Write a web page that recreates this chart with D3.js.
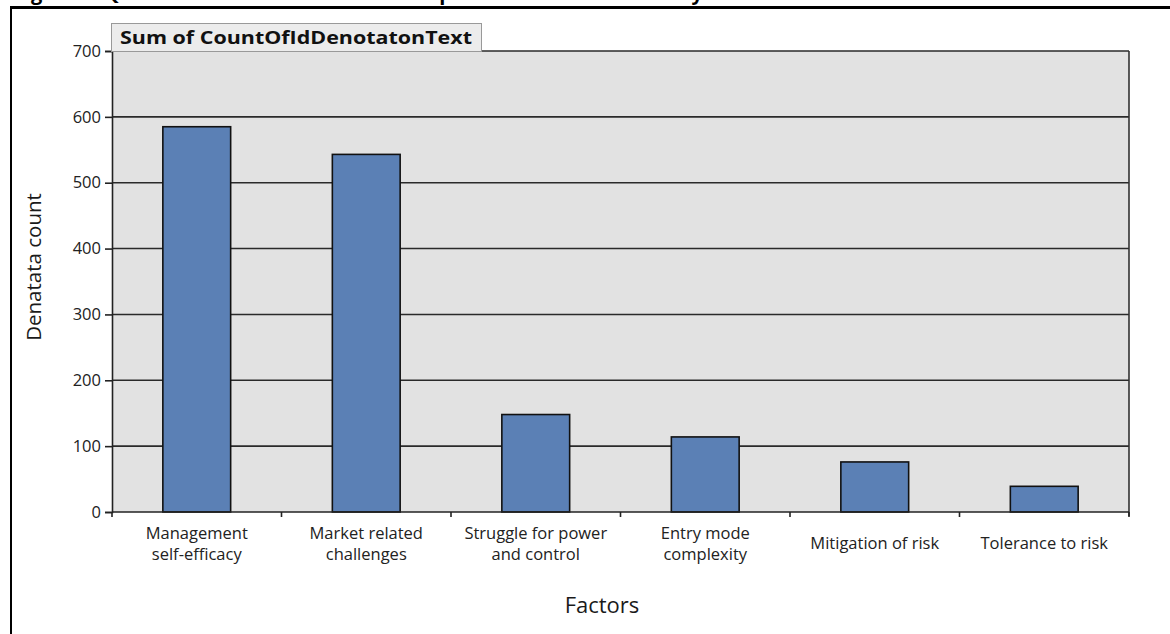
<!DOCTYPE html>
<html><head><meta charset="utf-8">
<script src="https://cdn.jsdelivr.net/npm/d3@7"></script>
<style>
html,body{margin:0;padding:0;background:#fff;}
svg{display:block;}
text{font-family:"Open Sans",Lato,sans-serif;fill:#222;}
</style></head>
<body>
<script>
const categories = [["Management","self-efficacy"],["Market related","challenges"],["Struggle for power","and control"],["Entry mode","complexity"],["Mitigation of risk"],["Tolerance to risk"]];
const values = [585, 543, 148, 114, 76, 39];
const yTicks = [0,100,200,300,400,500,600,700];
const titleText = "Sum of CountOfIdDenotatonText";
const yLabel = "Denatata count";
const xLabel = "Factors";
const captionText = "Figure 4: Qualitative Factors Sum of the Important Data Sets of Study";

const W = 1170, H = 634;
const m = {left:112, right:1129, top:51, bottom:512};
const svg = d3.select("body").append("svg").attr("width",W).attr("height",H);

// caption (cropped at top, only the lower edge of the glyphs shows)
svg.append("text").attr("x",14).attr("y",0).attr("font-family","Liberation Serif, serif")
  .attr("font-weight","bold").attr("font-size",20).style("fill","#000").text(captionText);

// outer frame
svg.append("line").attr("x1",10).attr("x2",W).attr("y1",7.5).attr("y2",7.5).attr("stroke","#000").attr("stroke-width",3);
svg.append("line").attr("x1",11).attr("x2",11).attr("y1",6).attr("y2",H).attr("stroke","#000").attr("stroke-width",2);

const x = d3.scaleBand().domain(categories.map((d,i)=>i)).range([m.left,m.right]).paddingInner(0.6).paddingOuter(0.3);
const xb = d3.scaleBand().domain(categories.map((d,i)=>i)).range([m.left,m.right]);
const y = d3.scaleLinear().domain([0,700]).range([m.bottom,m.top]);

// plot background
svg.append("rect").attr("x",m.left).attr("y",m.top).attr("width",m.right-m.left).attr("height",m.bottom-m.top).attr("fill","#e2e2e2");

// grid lines
svg.append("g").selectAll("line").data(yTicks.filter(d=>d>0)).join("line")
  .attr("x1",m.left).attr("x2",m.right).attr("y1",d=>y(d)).attr("y2",d=>y(d))
  .attr("stroke","#2a2a2a").attr("stroke-width",1.6);
svg.append("line").attr("x1",m.right).attr("x2",m.right).attr("y1",m.top).attr("y2",m.bottom+4).attr("stroke","#333").attr("stroke-width",1.6);

// bars
svg.append("g").selectAll("rect").data(values).join("rect")
  .attr("x",(d,i)=>x(i)).attr("width",x.bandwidth())
  .attr("y",d=>y(d)).attr("height",d=>y(0)-y(d))
  .attr("fill","#5b80b5").attr("stroke","#111").attr("stroke-width",1.6);

// y axis
const yAxis = svg.append("g").attr("transform",`translate(${m.left},0)`)
  .call(d3.axisLeft(y).tickValues(yTicks).tickSize(7).tickPadding(4));
yAxis.select(".domain").attr("stroke","#222").attr("stroke-width",1.6);
yAxis.selectAll(".tick line").attr("stroke","#222").attr("stroke-width",1.6);
yAxis.selectAll(".tick text").attr("font-size",16.5).attr("font-family","Open Sans, sans-serif").style("fill","#222");

// x axis baseline and ticks at boundaries
svg.append("line").attr("x1",m.left).attr("x2",m.right).attr("y1",m.bottom).attr("y2",m.bottom).attr("stroke","#222").attr("stroke-width",1.6);
const bounds = categories.map((d,i)=>xb(i)).concat([m.right]);
svg.append("g").selectAll("line").data(bounds).join("line")
  .attr("x1",d=>d).attr("x2",d=>d).attr("y1",m.bottom).attr("y2",m.bottom+5)
  .attr("stroke","#222").attr("stroke-width",1.6);

// x labels
const xl = svg.append("g").selectAll("text").data(categories).join("text")
  .attr("text-anchor","middle").attr("font-size",16.5).style("fill","#222")
  .attr("x",(d,i)=>xb(i)+xb.bandwidth()/2)
  .attr("y",d=> d.length===1 ? 549 : 539);
xl.selectAll("tspan").data(d=>d).join("tspan")
  .attr("x",function(){return d3.select(this.parentNode).attr("x");})
  .attr("dy",(d,i)=>i===0?0:21).text(d=>d);

// axis titles
svg.append("text").attr("transform","translate(41,267) rotate(-90)").attr("text-anchor","middle")
  .attr("font-size",20.5).style("fill","#1a1a1a").text(yLabel);
svg.append("text").attr("x",602).attr("y",613).attr("text-anchor","middle")
  .attr("font-size",22).style("fill","#1a1a1a").text(xLabel);

// title box
svg.append("rect").attr("x",111.5).attr("y",23.5).attr("width",370).attr("height",28)
  .attr("fill","#ececec").attr("stroke","#999").attr("stroke-width",1);
svg.append("text").attr("x",120).attr("y",44).attr("font-weight","bold").attr("font-size",17)
  .attr("textLength",352).attr("lengthAdjust","spacingAndGlyphs").style("fill","#111").text(titleText);
</script>
</body></html>
